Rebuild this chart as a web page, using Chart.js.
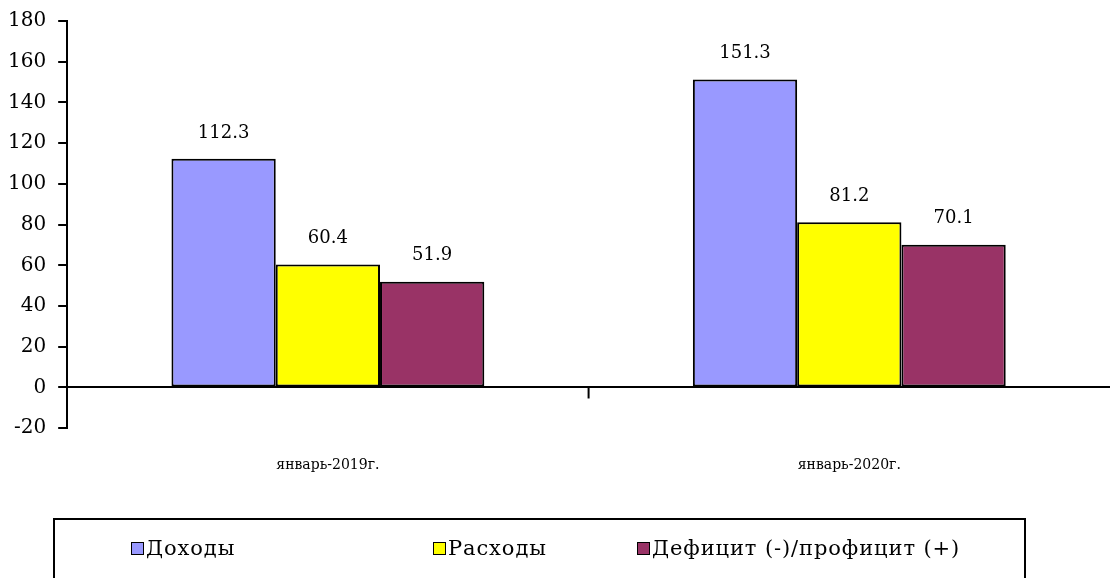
<!DOCTYPE html>
<html>
<head>
<meta charset="utf-8">
<script src="https://cdn.jsdelivr.net/npm/chart.js@4"></script>
<style>
  body { margin: 0; background: #fff; }
  #wrap { position: relative; width: 1110px; height: 578px; overflow: hidden; }
  #legend {
    position: absolute; left: 53px; top: 518px; width: 973px; height: 80px;
    border: 2px solid #000; box-sizing: border-box;
    font-family: "DejaVu Serif", serif; font-size: 21px; letter-spacing: 0.9px; color: #000;
  }
  .item { position: absolute; top: 16px; white-space: nowrap; }
  .sw { display: inline-block; width: 11px; height: 11px; border: 1.5px solid #000; margin-right: 2px; vertical-align: 0px; }
</style>
</head>
<body>
<div id="wrap">
  <canvas id="chart" width="1110" height="578"></canvas>
  <div id="legend"></div>
</div>
<script>
const categories = ["январь-2019г.", "январь-2020г."];
const seriesNames = ["Доходы", "Расходы", "Дефицит (-)/профицит (+)"];
const incomeValues = [112.3, 151.3];
const expenseValues = [60.4, 81.2];
const balanceValues = [51.9, 70.1];
const seriesColors = ["#9999FF", "#FFFF00", "#993366"];
const yTicks = [-20, 0, 20, 40, 60, 80, 100, 120, 140, 160, 180];

const allValues = [incomeValues, expenseValues, balanceValues];

// value labels above bars
const valueLabels = {
  id: "valueLabels",
  afterDatasetsDraw(chart) {
    const ctx = chart.ctx;
    ctx.save();
    ctx.font = "18px 'DejaVu Serif', serif";
    ctx.fillStyle = "#000";
    ctx.textAlign = "center";
    ctx.textBaseline = "middle";
    chart.data.datasets.forEach((ds, i) => {
      chart.getDatasetMeta(i).data.forEach((bar, j) => {
        ctx.fillText(ds.data[j].toFixed(1), bar.x, bar.y - 26);
      });
    });
    ctx.restore();
  }
};

// category separator ticks hanging from the zero line
const zeroTicks = {
  id: "zeroTicks",
  afterDatasetsDraw(chart) {
    const x = chart.scales.x;
    const y0 = chart.scales.y.getPixelForValue(0);
    const ctx = chart.ctx;
    ctx.save();
    ctx.strokeStyle = "#000";
    ctx.lineWidth = 2;
    for (let i = 1; i < categories.length; i++) {
      const px = (x.getPixelForTick(i - 1) + x.getPixelForTick(i)) / 2;
      ctx.beginPath();
      ctx.moveTo(px, y0);
      ctx.lineTo(px, y0 + 11);
      ctx.stroke();
    }
    ctx.restore();
  }
};

new Chart(document.getElementById("chart"), {
  type: "bar",
  data: {
    labels: categories,
    datasets: seriesNames.map((name, i) => ({
      label: name,
      data: allValues[i],
      backgroundColor: seriesColors[i],
      borderColor: "#000",
      borderWidth: 2,
      borderSkipped: false,
      categoryPercentage: 0.6,
      barPercentage: 1.0
    }))
  },
  options: {
    responsive: false,
    animation: false,
    layout: { padding: { left: -4, top: 21, right: -7, bottom: 75 } },
    plugins: { legend: { display: false }, tooltip: { enabled: false } },
    scales: {
      x: {
        grid: { display: false, drawTicks: false },
        border: { display: false },
        ticks: {
          padding: 29,
          color: "#000",
          font: { family: "'DejaVu Serif', serif", size: 14 }
        }
      },
      y: {
        min: -20,
        max: 180,
        afterBuildTicks(scale) {
          scale.ticks = yTicks.map(v => ({ value: v }));
        },
        afterFit(scale) {
          scale.paddingTop = 0;
        },
        grid: {
          color: c => (c.tick && c.tick.value === 0 ? "#000" : "rgba(0,0,0,0)"),
          tickColor: "#000",
          lineWidth: 2,
          tickLength: 9
        },
        border: { display: true, color: "#000", width: 2 },
        ticks: {
          padding: 12,
          color: "#000",
          font: { family: "'DejaVu Serif', serif", size: 20 }
        }
      }
    }
  },
  plugins: [valueLabels, zeroTicks]
});

// legend box
const legend = document.getElementById("legend");
const legendLeft = [76, 378, 582];
seriesNames.forEach((name, i) => {
  const item = document.createElement("span");
  item.className = "item";
  item.style.left = legendLeft[i] + "px";
  item.innerHTML = '<span class="sw" style="background:' + seriesColors[i] + '"></span>' + name;
  legend.appendChild(item);
});
</script>
</body>
</html>
